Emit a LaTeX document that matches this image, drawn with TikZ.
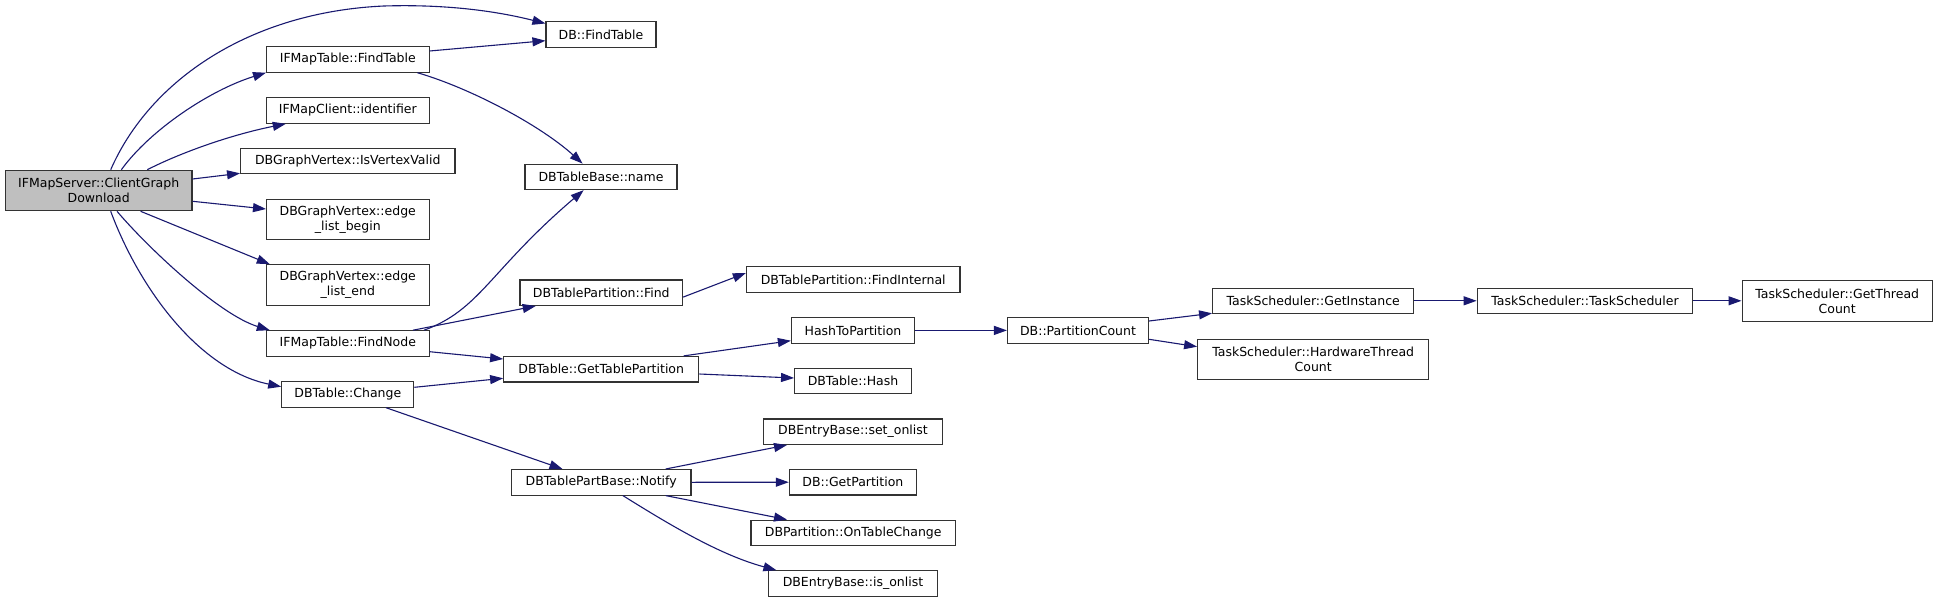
\documentclass[tikz,border=0pt]{standalone}
\usepackage{fontspec}
\setmainfont{DejaVu Sans}
\usetikzlibrary{arrows.meta}
\definecolor{edgeblue}{HTML}{191970}
\definecolor{rootgray}{HTML}{BFBFBF}
\definecolor{boxline}{HTML}{333333}
\begin{document}
\begin{tikzpicture}[x=1pt,y=-1pt,
  box/.style={draw=boxline, line width=1.1pt, fill=white, inner sep=0pt, align=center,
    minimum height=25.5pt, font=\fontsize{12.5}{15}\selectfont},
  dbl/.style={box, minimum height=40.5pt},
  e/.style={draw=edgeblue, line width=1.1pt, -{Triangle[length=13pt,width=9pt]}, fill=none}]
\useasboundingbox (0,0) rectangle (1939,602);
\fill[white] (0,0) rectangle (1939,602);
% nodes
\node[dbl, fill=rootgray, minimum width=186.6pt] (root) at (98.7,190.5) {IFMapServer::ClientGraph\\Download};
\node[box, minimum width=110pt] (dbft) at (601,34.5) {DB::FindTable};
\node[box, minimum width=162.5pt] (ft) at (347.8,59.4) {IFMapTable::FindTable};
\node[box, minimum width=163.5pt] (ident) at (347.8,110.5) {IFMapClient::identifier};
\node[box, minimum width=214.4pt] (valid) at (347.8,161) {DBGraphVertex::IsVertexValid};
\node[dbl, minimum width=162.5pt] (elb) at (347.8,219.5) {DBGraphVertex::edge\\\_list\_begin};
\node[dbl, minimum width=162.5pt] (ele) at (347.8,285) {DBGraphVertex::edge\\\_list\_end};
\node[box, minimum width=162.5pt] (fn) at (347.8,343.5) {IFMapTable::FindNode};
\node[box, minimum width=132.1pt] (chg) at (347.8,394.4) {DBTable::Change};
\node[box, minimum width=152pt] (name) at (601,176.9) {DBTableBase::name};
\node[box, minimum width=162.6pt] (tpf) at (601.3,292.7) {DBTablePartition::Find};
\node[box, minimum width=195.1pt] (gtp) at (601.2,369.2) {DBTable::GetTablePartition};
\node[box, minimum width=179.6pt] (ntf) at (601.2,482.3) {DBTablePartBase::Notify};
\node[box, minimum width=213.6pt] (fi) at (853.2,279.5) {DBTablePartition::FindInternal};
\node[box, minimum width=123.2pt] (h2p) at (853,330.4) {HashToPartition};
\node[box, minimum width=116.8pt] (hash) at (853,380.9) {DBTable::Hash};
\node[box, minimum width=178.9pt] (setl) at (853,431.7) {DBEntryBase::set\_onlist};
\node[box, minimum width=127.1pt] (gp) at (852.9,482.2) {DB::GetPartition};
\node[box, minimum width=204.4pt] (otc) at (853.2,532.9) {DBPartition::OnTableChange};
\node[box, minimum width=169.7pt] (isl) at (853,583.5) {DBEntryBase::is\_onlist};
\node[box, minimum width=141pt] (pc) at (1078,330.4) {DB::PartitionCount};
\node[box, minimum width=201.2pt] (gi) at (1313.2,300.8) {TaskScheduler::GetInstance};
\node[dbl, minimum width=231.1pt] (hw) at (1313.2,359.3) {TaskScheduler::HardwareThread\\Count};
\node[box, minimum width=215.6pt] (ts) at (1585,300.8) {TaskScheduler::TaskScheduler};
\node[dbl, minimum width=190.3pt] (gtc) at (1837.2,301) {TaskScheduler::GetThread\\Count};
% edges
\draw[e] ([xshift=12pt]root.north) .. controls (150,80) and (250,12) .. (384,6) .. controls (450,4) and (500,12) .. ([yshift=11pt]dbft.west);
\draw[e] ([xshift=22.7pt]root.north) .. controls (150,130) and (210,90) .. (ft.south west);
\draw[e] ([xshift=48.6pt]root.north) .. controls (180,153) and (230,135) .. ([xshift=-62pt]ident.south);
\draw[e] ([yshift=11.5pt]root.east) -- ([yshift=-12.3pt]valid.west);
\draw[e] ([yshift=-10.8pt]root.east) -- ([yshift=10.5pt]elb.west);
\draw[e] ([xshift=41.9pt]root.south) -- ([xshift=-78pt]ele.north);
\draw[e] ([xshift=18.3pt]root.south) .. controls (150,250) and (220,315) .. ([xshift=-78pt]fn.north);
\draw[e] ([xshift=12pt]root.south) .. controls (140,290) and (200,370) .. ([yshift=7.7pt]chg.west);
\draw[e] ([yshift=8.4pt]ft.east) -- ([yshift=-6.2pt]dbft.west);
\draw[e] ([xshift=69.6pt]ft.south) .. controls (470,88) and (540,125) .. ([xshift=-18.4pt]name.north);
\draw[e] ([xshift=76.2pt]fn.north) .. controls (480,310) and (490,270) .. ([xshift=-17.4pt]name.south);
\draw[e] ([xshift=65.2pt]fn.north) -- ([xshift=-65.6pt]tpf.south);
\draw[e] ([yshift=-8.2pt]fn.east) -- ([yshift=10.2pt]gtp.west);
\draw[e] ([yshift=7.1pt]chg.east) -- ([yshift=-9.1pt]gtp.west);
\draw[e] ([xshift=38.2pt]chg.south) -- ([xshift=-38.7pt]ntf.north);
\draw[e] ([yshift=-4.4pt]tpf.east) -- ([yshift=6.5pt]fi.west);
\draw[e] ([xshift=82.4pt]gtp.north) -- ([yshift=-10.3pt]h2p.west);
\draw[e] ([yshift=-4.8pt]gtp.east) -- ([yshift=2.9pt]hash.west);
\draw[e] (h2p.east) -- (pc.west);
\draw[e] ([yshift=9.4pt]pc.east) -- ([yshift=-12.5pt]gi.west);
\draw[e] ([yshift=-8.9pt]pc.east) -- ([yshift=12.6pt]hw.west);
\draw[e] (gi.east) -- (ts.west);
\draw[e] (ts.east) -- (gtc.west |- ts.east);
\draw[e] ([xshift=64.5pt]ntf.north) -- ([xshift=-66pt]setl.south);
\draw[e] (ntf.east) -- (gp.west);
\draw[e] ([xshift=64.5pt]ntf.south) -- ([xshift=-66.2pt]otc.north);
\draw[e] ([xshift=21.7pt]ntf.south) .. controls (670,525) and (720,555) .. ([xshift=-76.6pt]isl.north);
\end{tikzpicture}
\end{document}
